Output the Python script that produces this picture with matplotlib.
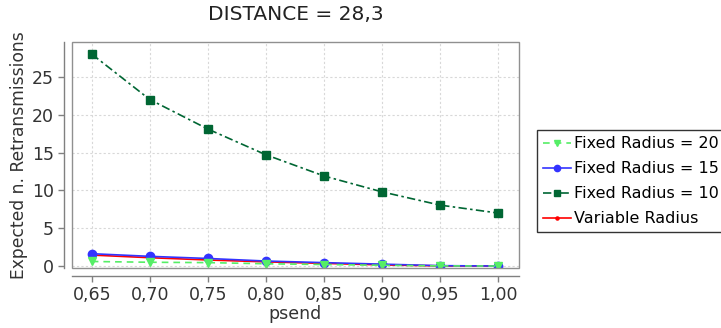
import matplotlib
matplotlib.use("Agg")
import matplotlib.pyplot as plt
from matplotlib.patches import Rectangle
from matplotlib.ticker import FuncFormatter

psend = [0.65, 0.70, 0.75, 0.80, 0.85, 0.90, 0.95, 1.00]
fixed_r20 = [0.6, 0.5, 0.45, 0.3, 0.2, 0.1, 0.02, 0.0]
fixed_r15 = [1.63, 1.28, 1.0, 0.66, 0.45, 0.25, 0.05, 0.0]
fixed_r10 = [28.0, 22.0, 18.1, 14.7, 11.9, 9.8, 8.05, 7.0]
variable_r = [1.45, 1.1, 0.8, 0.55, 0.35, 0.15, 0.02, 0.0]
x_ticks = [0.65, 0.70, 0.75, 0.80, 0.85, 0.90, 0.95, 1.00]
y_ticks = [0, 5, 10, 15, 20, 25]

plt.rcParams['font.family'] = ['DejaVu Sans']

fig = plt.figure(figsize=(7.21, 3.28), dpi=100)
ax = fig.add_axes([72/721, (328-268)/328, (519-72)/721, (268-42)/328])

ax.plot(psend, variable_r, color='#ff0000', lw=1.2, ls='-', marker='o', ms=3, zorder=3,
        label='Variable Radius')
ax.plot(psend, fixed_r15, color='#3333ff', lw=1.2, ls='-', marker='o', ms=6, zorder=4,
        label='Fixed Radius = 15')
ax.plot(psend, fixed_r20, color='#55ee66', lw=1.2, ls=(0, (4, 3)), marker='v', ms=6, zorder=5,
        label='Fixed Radius = 20')
ax.plot(psend, fixed_r10, color='#006633', lw=1.2, ls=(0, (5, 2, 1.5, 2)), marker='s', ms=6,
        zorder=6, label='Fixed Radius = 10')

ax.set_xlim(0.633, 1.018)
ax.set_ylim(-0.26, 29.6)
ax.set_xticks(x_ticks)
ax.set_yticks(y_ticks)
ax.xaxis.set_major_formatter(FuncFormatter(lambda v, p: f"{v:.2f}".replace('.', ',')))
ax.grid(True, color='#d8d8d8', ls=(0, (2, 2)), lw=0.8)
ax.set_axisbelow(True)

for s in ['top', 'right']:
    ax.spines[s].set_visible(False)
for s in ['left', 'bottom']:
    ax.spines[s].set_position(('outward', 6))
    ax.spines[s].set_color('#808080')
    ax.spines[s].set_linewidth(1.0)
ax.add_patch(Rectangle((0, 0), 1, 1, transform=ax.transAxes, fill=False,
                       ec='#909090', lw=1.0, clip_on=False, zorder=10))
ax.tick_params(colors='#808080', labelcolor='#333333', labelsize=12.5, length=4, width=1,
               pad=3)

ax.set_xlabel('psend', fontsize=12.5, color='#333333', labelpad=1)
ax.set_ylabel('Expected n. Retransmissions', fontsize=12.3, color='#333333', labelpad=3)
ax.set_title('DISTANCE = 28,3', fontsize=14.5, color='#222222', pad=16)

handles, labels = ax.get_legend_handles_labels()
order = [2, 1, 3, 0]
leg = fig.legend([handles[i] for i in order], [labels[i] for i in order],
                 loc='upper left', bbox_to_anchor=(537/721, (328-130)/328),
                 fontsize=11.5, frameon=True, fancybox=False, borderaxespad=0,
                 handlelength=1.7, handletextpad=0.2, borderpad=0.4, labelspacing=0.62,
                 markerscale=0.75)
leg.get_frame().set_edgecolor('#000000')
leg.get_frame().set_linewidth(1.0)

fig.savefig('out.png', dpi=100)
